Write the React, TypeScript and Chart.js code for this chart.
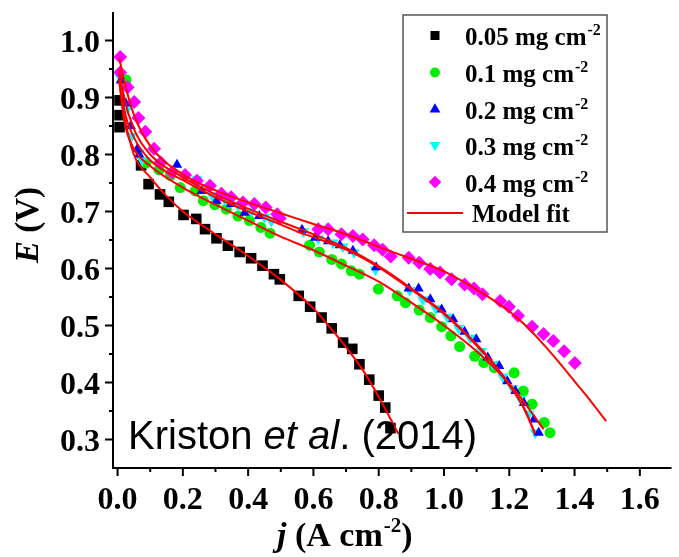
import React, { useEffect, useRef } from "react";
import { Chart, registerables } from "chart.js";

Chart.register(...registerables);

// ---------- data (j in A cm^-2, E in V) ----------
const j005 = [0.006, 0.006, 0.006, 0.072, 0.095, 0.13, 0.157, 0.202, 0.241, 0.268, 0.303, 0.338, 0.374, 0.409, 0.444, 0.479, 0.497, 0.555, 0.59, 0.625, 0.656, 0.691, 0.719, 0.741, 0.771, 0.8, 0.82, 0.836];
const E005 = [0.895, 0.869, 0.848, 0.781, 0.748, 0.73, 0.717, 0.694, 0.687, 0.669, 0.653, 0.64, 0.629, 0.618, 0.605, 0.59, 0.581, 0.552, 0.533, 0.514, 0.495, 0.47, 0.459, 0.432, 0.405, 0.377, 0.356, 0.32];

const j01 = [0.026, 0.087, 0.127, 0.162, 0.192, 0.238, 0.263, 0.298, 0.333, 0.369, 0.404, 0.439, 0.467, 0.588, 0.618, 0.656, 0.686, 0.716, 0.741, 0.799, 0.857, 0.882, 0.924, 0.958, 0.993, 1.021, 1.048, 1.094, 1.122, 1.154, 1.215, 1.243, 1.27, 1.307, 1.325];
const E01 = [0.931, 0.785, 0.773, 0.763, 0.742, 0.736, 0.719, 0.712, 0.704, 0.692, 0.684, 0.672, 0.662, 0.641, 0.629, 0.616, 0.608, 0.596, 0.59, 0.564, 0.552, 0.54, 0.527, 0.514, 0.498, 0.482, 0.463, 0.446, 0.435, 0.426, 0.417, 0.385, 0.362, 0.33, 0.312];

const j02 = [0.01, 0.025, 0.04, 0.061, 0.066, 0.182, 0.258, 0.303, 0.348, 0.389, 0.434, 0.565, 0.605, 0.645, 0.681, 0.721, 0.792, 0.892, 0.922, 0.958, 0.993, 1.028, 1.063, 1.099, 1.134, 1.169, 1.194, 1.219, 1.245, 1.275, 1.29];
const E02 = [0.93, 0.89, 0.85, 0.81, 0.8, 0.782, 0.736, 0.719, 0.713, 0.698, 0.692, 0.668, 0.654, 0.648, 0.641, 0.631, 0.602, 0.565, 0.565, 0.546, 0.528, 0.511, 0.489, 0.476, 0.444, 0.429, 0.402, 0.385, 0.364, 0.335, 0.312];

const j03 = [0.008, 0.03, 0.043, 0.066, 0.075, 0.243, 0.29, 0.33, 0.37, 0.41, 0.45, 0.471, 0.57, 0.615, 0.66, 0.69, 0.725, 0.79, 0.895, 0.935, 0.975, 1.01, 1.045, 1.08, 1.115, 1.15, 1.18, 1.21, 1.235, 1.26, 1.28];
const E03 = [0.935, 0.88, 0.832, 0.803, 0.79, 0.756, 0.728, 0.72, 0.71, 0.7, 0.69, 0.683, 0.665, 0.652, 0.645, 0.638, 0.628, 0.598, 0.562, 0.545, 0.53, 0.515, 0.495, 0.478, 0.455, 0.432, 0.41, 0.39, 0.37, 0.345, 0.312];

const j04 = [0.008, 0.008, 0.031, 0.051, 0.064, 0.085, 0.112, 0.132, 0.167, 0.207, 0.243, 0.283, 0.318, 0.348, 0.384, 0.419, 0.454, 0.489, 0.497, 0.615, 0.645, 0.686, 0.721, 0.751, 0.786, 0.812, 0.837, 0.892, 0.924, 0.958, 0.988, 1.023, 1.063, 1.092, 1.118, 1.172, 1.199, 1.227, 1.27, 1.305, 1.335, 1.368, 1.401];
const E04 = [0.971, 0.944, 0.918, 0.892, 0.864, 0.84, 0.81, 0.786, 0.769, 0.764, 0.754, 0.745, 0.731, 0.725, 0.716, 0.713, 0.707, 0.695, 0.688, 0.669, 0.669, 0.66, 0.657, 0.651, 0.641, 0.633, 0.621, 0.619, 0.61, 0.599, 0.593, 0.581, 0.572, 0.565, 0.555, 0.543, 0.533, 0.517, 0.498, 0.485, 0.473, 0.455, 0.434];

// model fits
const fit005J = [0.005, 0.02, 0.05, 0.1, 0.15, 0.2, 0.3, 0.4, 0.5, 0.6, 0.65, 0.7, 0.75, 0.8, 0.86];
const fit005E = [0.93, 0.87, 0.8, 0.76, 0.727, 0.7, 0.66, 0.622, 0.58, 0.53, 0.497, 0.462, 0.423, 0.375, 0.31];
const fit01J = [0.005, 0.02, 0.05, 0.1, 0.2, 0.3, 0.4, 0.5, 0.6, 0.7, 0.8, 0.9, 1.0, 1.1, 1.15, 1.2, 1.25, 1.275, 1.305];
const fit01E = [0.93, 0.86, 0.81, 0.78, 0.742, 0.712, 0.684, 0.656, 0.632, 0.605, 0.577, 0.54, 0.5, 0.455, 0.428, 0.398, 0.362, 0.342, 0.318];
const fit02J = [0.005, 0.02, 0.05, 0.1, 0.2, 0.3, 0.4, 0.5, 0.55, 0.6, 0.7, 0.8, 0.9, 1.0, 1.1, 1.15, 1.2, 1.25, 1.278];
const fit02E = [0.94, 0.88, 0.83, 0.79, 0.755, 0.725, 0.7, 0.677, 0.665, 0.655, 0.633, 0.602, 0.563, 0.52, 0.465, 0.433, 0.395, 0.35, 0.31];
const fit03J = [0.005, 0.02, 0.05, 0.1, 0.2, 0.3, 0.4, 0.5, 0.6, 0.7, 0.8, 0.9, 1.0, 1.1, 1.15, 1.2, 1.24, 1.28];
const fit03E = [0.95, 0.9, 0.845, 0.8, 0.76, 0.73, 0.705, 0.682, 0.66, 0.636, 0.604, 0.565, 0.522, 0.467, 0.435, 0.397, 0.36, 0.31];
const fit04J = [0.005, 0.02, 0.05, 0.1, 0.2, 0.3, 0.4, 0.5, 0.6, 0.7, 0.8, 0.9, 1.0, 1.1, 1.2, 1.25, 1.3, 1.35, 1.4, 1.45, 1.497];
const fit04E = [0.97, 0.93, 0.87, 0.815, 0.765, 0.737, 0.716, 0.697, 0.678, 0.66, 0.638, 0.617, 0.595, 0.563, 0.525, 0.5, 0.47, 0.437, 0.402, 0.367, 0.332];

// ticks & labels
const xMajorTicks = [0, 0.2, 0.4, 0.6, 0.8, 1.0, 1.2, 1.4, 1.6];
const xTickLabels = ["0.0", "0.2", "0.4", "0.6", "0.8", "1.0", "1.2", "1.4", "1.6"];
const xMinorTicks = [0.1, 0.3, 0.5, 0.7, 0.9, 1.1, 1.3, 1.5];
const yMajorTicks = [0.3, 0.4, 0.5, 0.6, 0.7, 0.8, 0.9, 1.0];
const yTickLabels = ["0.3", "0.4", "0.5", "0.6", "0.7", "0.8", "0.9", "1.0"];
const yMinorTicks = [0.35, 0.45, 0.55, 0.65, 0.75, 0.85, 0.95];
const legendLabels = ["0.05 mg cm", "0.1 mg cm", "0.2 mg cm", "0.3 mg cm", "0.4 mg cm"];
const legendSup = "-2";
const fitLabel = "Model fit";
const seriesColors = ["#000000", "#00ee00", "#0000ff", "#00ffff", "#ff00ff"];
const fitColor = "#ff0000";

const zip = (xs: number[], ys: number[]) => xs.map((x, i) => ({ x, y: ys[i] }));

const SERIF = '"Liberation Serif", "Times New Roman", serif';
const SANS = '"Liberation Sans", Arial, sans-serif';

function drawMarker(ctx: CanvasRenderingContext2D, kind: number, x: number, y: number, s: number) {
  ctx.beginPath();
  if (kind === 0) {
    ctx.rect(x - s, y - s, 2 * s, 2 * s);
  } else if (kind === 1) {
    ctx.arc(x, y, s * 1.1, 0, Math.PI * 2);
  } else if (kind === 2) {
    ctx.moveTo(x, y - s * 1.3);
    ctx.lineTo(x + s * 1.2, y + s * 0.8);
    ctx.lineTo(x - s * 1.2, y + s * 0.8);
    ctx.closePath();
  } else if (kind === 3) {
    ctx.moveTo(x, y + s * 1.3);
    ctx.lineTo(x + s * 1.2, y - s * 0.8);
    ctx.lineTo(x - s * 1.2, y - s * 0.8);
    ctx.closePath();
  } else {
    ctx.moveTo(x, y - s * 1.4);
    ctx.lineTo(x + s * 1.4, y);
    ctx.lineTo(x, y + s * 1.4);
    ctx.lineTo(x - s * 1.4, y);
    ctx.closePath();
  }
  ctx.fill();
}

const decor = {
  id: "decor",
  afterDraw(chart: any) {
    const ctx: CanvasRenderingContext2D = chart.ctx;
    const xs = chart.scales.x;
    const ys = chart.scales.y;
    const { left, right, top, bottom } = chart.chartArea;
    ctx.save();
    ctx.strokeStyle = "#000";
    ctx.fillStyle = "#000";
    ctx.lineWidth = 2;
    // axes
    ctx.beginPath();
    ctx.moveTo(left, top);
    ctx.lineTo(left, bottom);
    ctx.lineTo(right, bottom);
    ctx.stroke();
    // ticks
    ctx.beginPath();
    xMajorTicks.forEach((v) => {
      const p = xs.getPixelForValue(v);
      ctx.moveTo(p, bottom);
      ctx.lineTo(p, bottom + 8);
    });
    xMinorTicks.forEach((v) => {
      const p = xs.getPixelForValue(v);
      ctx.moveTo(p, bottom);
      ctx.lineTo(p, bottom + 4);
    });
    yMajorTicks.forEach((v) => {
      const p = ys.getPixelForValue(v);
      ctx.moveTo(left, p);
      ctx.lineTo(left - 8, p);
    });
    yMinorTicks.forEach((v) => {
      const p = ys.getPixelForValue(v);
      ctx.moveTo(left, p);
      ctx.lineTo(left - 4, p);
    });
    ctx.stroke();
    // tick labels
    ctx.font = `bold 32px ${SERIF}`;
    ctx.textAlign = "center";
    ctx.textBaseline = "alphabetic";
    xMajorTicks.forEach((v, i) => {
      ctx.fillText(xTickLabels[i], xs.getPixelForValue(v), 509);
    });
    ctx.textAlign = "right";
    yMajorTicks.forEach((v, i) => {
      ctx.fillText(yTickLabels[i], left - 13, ys.getPixelForValue(v) + 11);
    });

    // x title: j (A cm^-2)
    ctx.textAlign = "left";
    let x = 277;
    const by = 546;
    ctx.font = `italic bold 34px ${SERIF}`;
    ctx.fillText("j", x, by);
    x += ctx.measureText("j").width;
    ctx.font = `bold 34px ${SERIF}`;
    ctx.fillText(" (A cm", x, by);
    x += ctx.measureText(" (A cm").width;
    ctx.font = `bold 21px ${SERIF}`;
    ctx.fillText("-2", x + 1, by - 14);
    x += ctx.measureText("-2").width + 1;
    ctx.font = `bold 34px ${SERIF}`;
    ctx.fillText(")", x, by);

    // y title: E (V)
    ctx.save();
    ctx.translate(38, 225);
    ctx.rotate(-Math.PI / 2);
    ctx.font = `italic bold 33px ${SERIF}`;
    const wE = ctx.measureText("E").width;
    ctx.font = `bold 33px ${SERIF}`;
    const wV = ctx.measureText(" (V)").width;
    const yx = -(wE + wV) / 2;
    ctx.font = `italic bold 33px ${SERIF}`;
    ctx.fillText("E", yx, 0);
    ctx.font = `bold 33px ${SERIF}`;
    ctx.fillText(" (V)", yx + wE, 0);
    ctx.restore();

    // annotation
    let ax = 128;
    const ay = 449;
    ctx.font = `40px ${SANS}`;
    ctx.fillText("Kriston ", ax, ay);
    ax += ctx.measureText("Kriston ").width;
    ctx.font = `italic 40px ${SANS}`;
    ctx.fillText("et al", ax, ay);
    ax += ctx.measureText("et al").width;
    ctx.font = `40px ${SANS}`;
    ctx.fillText(". (2014)", ax, ay);

    // legend
    ctx.fillStyle = "#fff";
    ctx.fillRect(403, 15, 204, 217);
    ctx.strokeStyle = "#555";
    ctx.lineWidth = 1.5;
    ctx.strokeRect(403, 15, 204, 217);
    const baselines = [45, 82, 118.5, 155, 191.5];
    legendLabels.forEach((lab, i) => {
      ctx.fillStyle = seriesColors[i];
      drawMarker(ctx, i, 435, baselines[i] - 9.5, 4.5);
      ctx.fillStyle = "#000";
      ctx.font = `bold 25px ${SERIF}`;
      ctx.fillText(lab, 465, baselines[i]);
      const w = ctx.measureText(lab).width;
      ctx.font = `bold 16px ${SERIF}`;
      ctx.fillText(legendSup, 465 + w + 1, baselines[i] - 10);
    });
    ctx.strokeStyle = fitColor;
    ctx.lineWidth = 2;
    ctx.beginPath();
    ctx.moveTo(407, 213);
    ctx.lineTo(463, 213);
    ctx.stroke();
    ctx.fillStyle = "#000";
    ctx.font = `bold 25px ${SERIF}`;
    ctx.fillText(fitLabel, 472, 222);
    ctx.restore();
  },
};

export default function App() {
  const ref = useRef<HTMLCanvasElement | null>(null);
  useEffect(() => {
    document.body.style.margin = "0";
    const canvas = ref.current;
    if (!canvas) return;
    const markerSet = (data: any, color: string, style: string, radius: number, order: number, rotation = 0) => ({
      data,
      backgroundColor: color,
      borderColor: color,
      borderWidth: 0,
      pointStyle: style,
      pointRadius: radius,
      pointRotation: rotation,
      showLine: false,
      clip: false,
      order,
    });
    const fitSet = (data: any) => ({
      data,
      borderColor: fitColor,
      backgroundColor: fitColor,
      borderWidth: 2,
      pointRadius: 0,
      showLine: true,
      cubicInterpolationMode: "monotone",
      clip: false,
      order: 0,
    });
    const chart = new Chart(canvas, {
      type: "scatter",
      data: {
        datasets: [
          markerSet(zip(j005, E005), seriesColors[0], "rect", 7.5, 6),
          markerSet(zip(j01, E01), seriesColors[1], "circle", 5.5, 5),
          markerSet(zip(j03, E03), seriesColors[3], "triangle", 6.5, 4, 180),
          markerSet(zip(j02, E02), seriesColors[2], "triangle", 6, 3),
          markerSet(zip(j04, E04), seriesColors[4], "rectRot", 7, 2),
          fitSet(zip(fit005J, fit005E)),
          fitSet(zip(fit01J, fit01E)),
          fitSet(zip(fit02J, fit02E)),
          fitSet(zip(fit03J, fit03E)),
          fitSet(zip(fit04J, fit04E)),
        ] as any,
      },
      options: {
        responsive: false,
        animation: false,
        layout: { padding: { top: 12, left: 0, right: 0, bottom: 0 } },
        plugins: { legend: { display: false }, tooltip: { enabled: false } },
        scales: {
          x: {
            type: "linear",
            min: -0.014,
            max: 1.697,
            grid: { display: false },
            border: { display: false },
            ticks: { display: false },
            afterFit(s: any) {
              s.height = 89;
            },
          },
          y: {
            type: "linear",
            min: 0.25,
            max: 1.05,
            grid: { display: false },
            border: { display: false },
            ticks: { display: false },
            afterFit(s: any) {
              s.width = 113;
            },
          },
        },
      } as any,
      plugins: [decor],
    });
    return () => chart.destroy();
  }, []);
  return (
    <div style={{ width: 679, height: 557, background: "#fff" }}>
      <canvas ref={ref} width={679} height={557} style={{ display: "block" }} />
    </div>
  );
}
